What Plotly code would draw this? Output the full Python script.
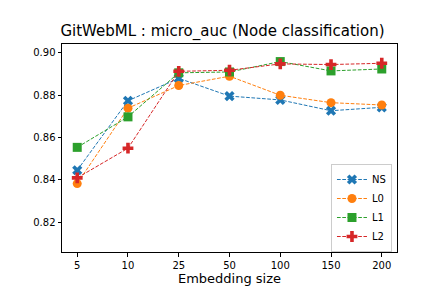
import plotly.graph_objects as go

categories = ["5", "10", "25", "50", "100", "150", "200"]
ns = [0.8445, 0.8773, 0.8879, 0.8795, 0.8777, 0.8726, 0.8742]
l0 = [0.8382, 0.8738, 0.8845, 0.8889, 0.8799, 0.8764, 0.8753]
l1 = [0.8553, 0.8697, 0.8905, 0.8909, 0.8958, 0.8914, 0.8923]
l2 = [0.8409, 0.8549, 0.8912, 0.8917, 0.8947, 0.8944, 0.8950]
series_names = ["NS", "L0", "L1", "L2"]
colors = ["#1f77b4", "#ff7f0e", "#2ca02c", "#d62728"]
symbols = ["x", "circle", "square", "cross"]
ytick_vals = [0.82, 0.84, 0.86, 0.88, 0.90]

fig = go.Figure()
xs = list(range(len(categories)))
for name, vals, c, s in zip(series_names, [ns, l0, l1, l2], colors, symbols):
    fig.add_trace(go.Scatter(
        x=xs, y=vals, name=name, mode="lines+markers",
        line=dict(color=c, width=1, dash="3.7px,1.6px"),
        marker=dict(symbol=s, size=9, color=c, line=dict(width=0)),
    ))

fig.update_layout(
    width=432, height=288,
    margin=dict(l=54, r=43, t=36, b=36),
    paper_bgcolor="white", plot_bgcolor="white",
    font=dict(family="DejaVu Sans", size=10, color="black"),
    title=dict(text="GitWebML : micro_auc (Node classification)",
               x=214.5 / 432, xanchor="center", y=1 - 23 / 288, yanchor="middle",
               font=dict(size=15, color="black")),
    showlegend=True,
    legend=dict(x=0.985, y=0.0, xanchor="right", yanchor="bottom",
                bordercolor="#cccccc", borderwidth=1, bgcolor="rgba(255,255,255,0.8)",
                font=dict(size=10), tracegroupgap=0),
)
fig.update_xaxes(
    tickmode="array", tickvals=xs, ticktext=categories,
    range=[-0.3, 6.3], showgrid=False, zeroline=False,
    showline=True, linecolor="black", linewidth=1, mirror=True,
    ticks="outside", ticklen=3.5, tickcolor="black",
    title=dict(text="Embedding size", font=dict(size=13), standoff=4),
)
fig.update_yaxes(
    tickmode="array", tickvals=ytick_vals, ticktext=[f"{v:.2f}" for v in ytick_vals],
    range=[0.8059, 0.9041], showgrid=False, zeroline=False,
    showline=True, linecolor="black", linewidth=1, mirror=True,
    ticks="outside", ticklen=3.5, tickcolor="black",
)
fig.write_html("out.html")
